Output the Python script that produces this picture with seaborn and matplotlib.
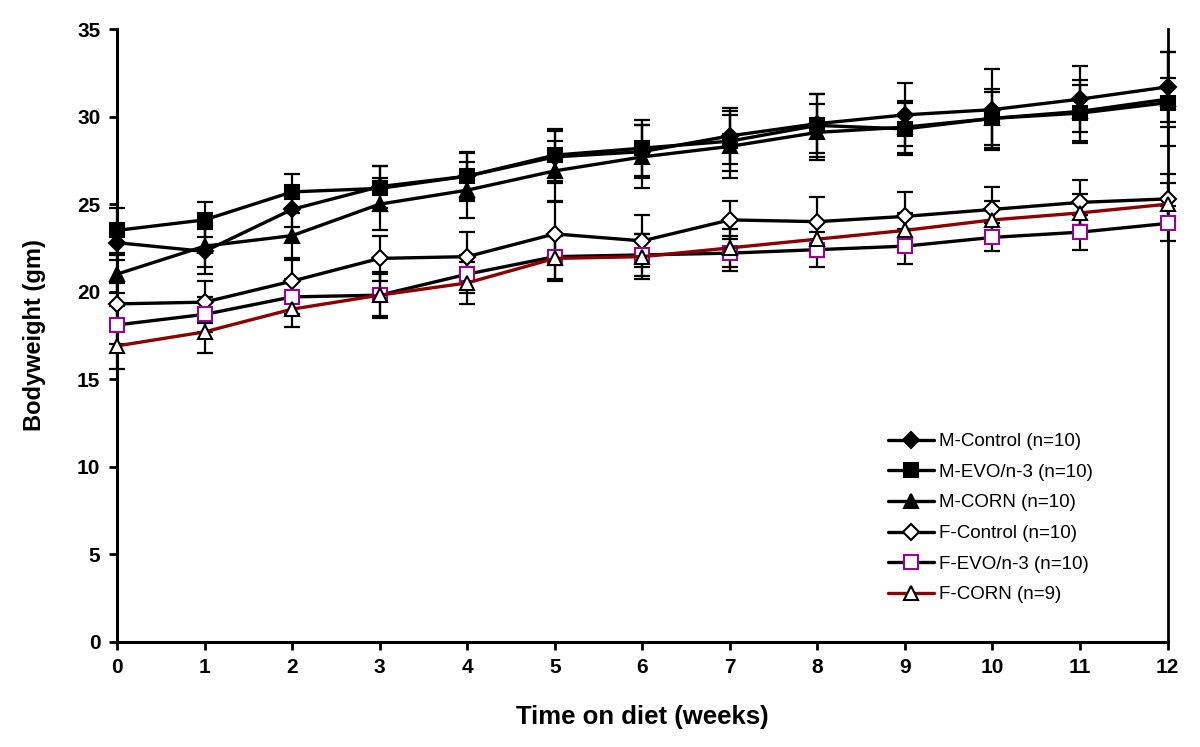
import numpy as np
import pandas as pd
import matplotlib
matplotlib.use("Agg")
import matplotlib.pyplot as plt
import seaborn as sns

# --- data ---
weeks = list(range(13))

m_control = [22.8, 22.3, 24.7, 26.0, 26.6, 27.7, 28.0, 28.9, 29.6, 30.1, 30.4, 31.0, 31.7]
m_evo = [23.5, 24.1, 25.7, 25.9, 26.6, 27.8, 28.2, 28.6, 29.5, 29.3, 29.9, 30.2, 30.8]
m_corn = [21.0, 22.6, 23.2, 25.0, 25.8, 26.9, 27.7, 28.3, 29.1, 29.4, 29.9, 30.3, 31.0]
f_control = [19.3, 19.4, 20.6, 21.9, 22.0, 23.3, 22.9, 24.1, 24.0, 24.3, 24.7, 25.1, 25.3]
f_evo = [18.1, 18.7, 19.7, 19.8, 21.0, 22.0, 22.1, 22.2, 22.4, 22.6, 23.1, 23.4, 23.9]
f_corn = [16.9, 17.7, 19.0, 19.8, 20.5, 21.9, 22.0, 22.5, 23.0, 23.5, 24.1, 24.5, 25.0]

m_control_err = [1.0, 1.3, 1.0, 1.2, 1.3, 1.5, 1.5, 1.6, 1.7, 1.8, 2.3, 1.9, 2.0]
m_evo_err = [1.3, 1.0, 1.0, 1.3, 1.4, 1.5, 1.6, 1.7, 1.8, 1.5, 1.5, 1.6, 1.4]
m_corn_err = [1.1, 1.2, 1.3, 1.5, 1.6, 1.7, 1.8, 1.8, 1.6, 1.5, 1.7, 1.8, 2.7]
f_control_err = [1.2, 1.2, 1.2, 1.3, 1.4, 1.8, 1.5, 1.1, 1.4, 1.4, 1.3, 1.3, 1.4]
f_evo_err = [1.1, 1.0, 1.0, 1.3, 1.1, 1.3, 1.2, 1.0, 1.0, 1.0, 0.8, 1.0, 1.0]
f_corn_err = [1.3, 1.2, 1.0, 1.2, 1.2, 1.3, 1.3, 1.1, 1.0, 1.0, 1.1, 1.1, 1.2]

groups = ["M-Control (n=10)", "M-EVO/n-3 (n=10)", "M-CORN (n=10)",
          "F-Control (n=10)", "F-EVO/n-3 (n=10)", "F-CORN (n=9)"]
means = [m_control, m_evo, m_corn, f_control, f_evo, f_corn]
errs = [m_control_err, m_evo_err, m_corn_err, f_control_err, f_evo_err, f_corn_err]

# --- styles ---
line_colors = ["black", "black", "black", "black", "black", "#8B0000"]
markers = ["D", "s", "^", "D", "s", "^"]
marker_sizes = [8, 10, 10, 8, 10, 10]
face_colors = ["black", "black", "black", "white", "white", "white"]
edge_colors = ["black", "black", "black", "black", "#990099", "black"]

rows = []
for g, m in zip(groups, means):
    for w, v in zip(weeks, m):
        rows.append({"week": w, "weight": v, "group": g})
df = pd.DataFrame(rows)

sns.set_style("ticks")
plt.rcParams["font.family"] = ["Liberation Sans", "DejaVu Sans"]
plt.rcParams["text.color"] = "black"
plt.rcParams["axes.labelcolor"] = "black"
plt.rcParams["xtick.color"] = "black"
plt.rcParams["ytick.color"] = "black"
plt.rcParams["axes.edgecolor"] = "black"

fig, ax = plt.subplots(figsize=(12, 7.47), dpi=100)
fig.subplots_adjust(left=0.0975, right=0.973, top=0.961, bottom=0.141)

# error bars first so lines sit on top
for g, m, e in zip(groups, means, errs):
    ax.errorbar(weeks, m, yerr=e, fmt="none", ecolor="black",
                elinewidth=1.6, capsize=6, capthick=1.6, zorder=1,
                clip_on=False)

for i, g in enumerate(groups):
    sub = df[df["group"] == g]
    sns.lineplot(data=sub, x="week", y="weight", ax=ax, label=g,
                 color=line_colors[i], linewidth=2.4, marker=markers[i],
                 markersize=marker_sizes[i], markerfacecolor=face_colors[i],
                 markeredgecolor=edge_colors[i], markeredgewidth=1.5,
                 zorder=3 + i, clip_on=False)

ax.set_xlim(0, 12)
ax.set_ylim(0, 35)
ax.set_xticks(range(0, 13))
ax.set_yticks(range(0, 36, 5))
ax.tick_params(axis="both", direction="out", length=6, width=2,
               labelsize=15, pad=6)
for lab in ax.get_xticklabels() + ax.get_yticklabels():
    lab.set_fontweight("bold")

ax.set_xlabel("Time on diet (weeks)", fontsize=18.5, fontweight="bold", labelpad=20)
ax.set_ylabel("Bodyweight (gm)", fontsize=17, fontweight="bold", labelpad=22)

ax.spines["top"].set_visible(False)
ax.spines["right"].set_visible(True)
for s in ["left", "bottom", "right"]:
    ax.spines[s].set_linewidth(2.2)
ax.spines["right"].set_linewidth(2.0)
ax.tick_params(axis="y", right=False)

leg = ax.legend(loc="lower right", bbox_to_anchor=(0.945, 0.035), frameon=False,
                fontsize=13.5, handlelength=2.5, labelspacing=0.72,
                handletextpad=0.25)

plt.savefig("out.png", dpi=100)
